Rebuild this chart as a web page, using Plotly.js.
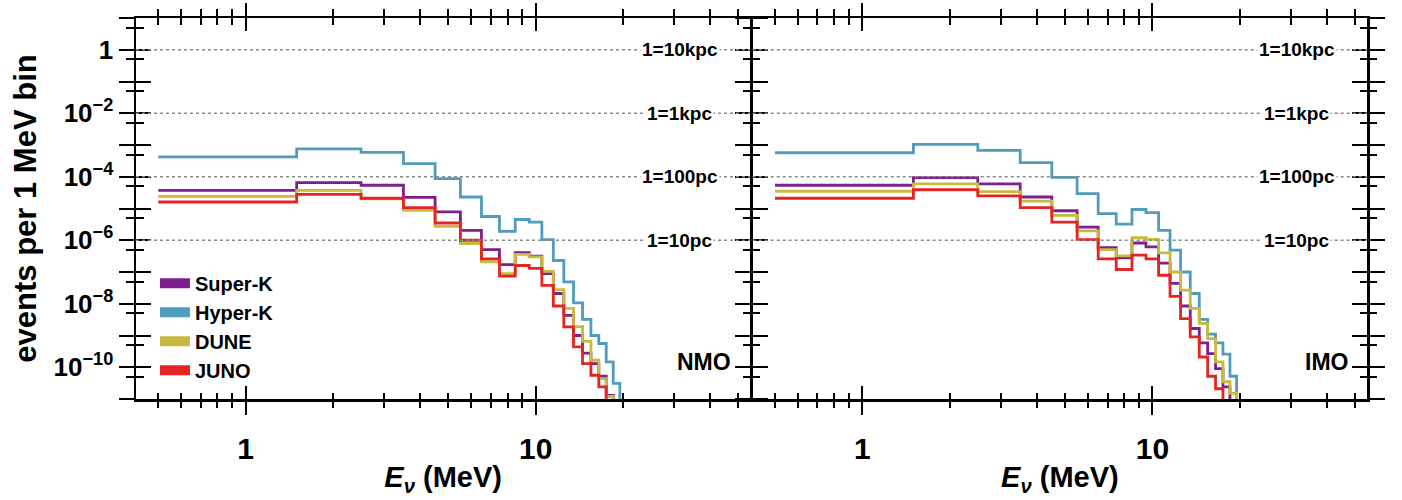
<!DOCTYPE html>
<html>
<head>
<meta charset="utf-8">
<script src="https://cdn.plot.ly/plotly-3.0.1.min.js"></script>
<style>html,body{margin:0;padding:0;background:#fff;}#chart{width:1402px;height:500px;}</style>
</head>
<body>
<div id="chart"></div>
<script>
// ---------------- DATA ----------------
// lower bin edges (MeV), 1 MeV wide bins
const binEdges = [0.5,1.5,2.5,3.5,4.5,5.5,6.5,7.5,8.5,9.5,10.5,11.5,12.5,13.5,14.5,15.5,16.5,17.5,18.5,19.5,20.5];
const detectors = ['Super-K','Hyper-K','DUNE','JUNO'];
const colors = ['#7d1f8e','#4f9dba','#c8b93f','#e32422'];
// events per 1 MeV bin, normal mass ordering (last value: next bin, below axis)
const superK_NMO = [3.7e-5,6.5e-5,5.4e-5,2.25e-5,7.8e-6,2.05e-6,5.1e-7,1.7e-7,4.1e-7,3.15e-7,8.9e-8,2.1e-8,4.3e-9,1.0e-9,2.8e-10,1.3e-10,5.2e-11,1.3e-11,1e-13];
const hyperK_NMO = [4.2e-4,7.6e-4,5.9e-4,2.6e-4,8.7e-5,2.3e-5,5.6e-6,1.9e-6,4.5e-6,3.7e-6,1.05e-6,2.3e-7,4.9e-8,1.07e-8,3.2e-9,1.0e-9,5.6e-10,1.48e-10,3.1e-11,1e-13];
const dune_NMO   = [2.4e-5,3.7e-5,2.0e-5,8.8e-6,2.75e-6,7.9e-7,2.1e-7,8.9e-8,3.6e-7,3.0e-7,1.05e-7,2.8e-8,7.1e-9,1.9e-9,6.6e-10,1.66e-10,4.4e-11,1.2e-11,1e-13];
const juno_NMO   = [1.6e-5,2.8e-5,2.1e-5,1.07e-5,3.5e-6,1.0e-6,2.6e-7,7.4e-8,1.6e-7,1.3e-7,3.8e-8,8.5e-9,1.87e-9,4.4e-10,1.3e-10,5.6e-11,2.4e-11,1e-13];
// inverted mass ordering
const superK_IMO = [5.4e-5,9.4e-5,6.0e-5,2.3e-5,8.5e-6,2.6e-6,5.9e-7,2.8e-7,8.2e-7,6.2e-7,1.9e-7,4.4e-8,8.5e-9,1.66e-9,5.9e-10,2.7e-10,9.1e-11,2.4e-11,1e-13];
const hyperK_IMO = [5.7e-4,1.05e-3,6.8e-4,2.8e-4,9.5e-5,2.95e-5,6.9e-6,3.2e-6,9.3e-6,7.4e-6,2.06e-6,4.9e-7,1.0e-7,2.1e-8,3.2e-9,1.1e-9,5.9e-10,2.6e-10,5.2e-11,1e-13];
const dune_IMO   = [3.5e-5,6.0e-5,3.4e-5,1.7e-5,6.1e-6,1.96e-6,5.1e-7,3.2e-7,1.2e-6,1.07e-6,4.0e-7,1.0e-7,2.7e-8,7.1e-9,2.4e-9,8.0e-10,1.48e-10,3.5e-11,1.5e-11,1e-13];
const juno_IMO   = [2.1e-5,3.9e-5,2.5e-5,1.07e-5,3.7e-6,1.05e-6,2.6e-7,1.2e-7,3.4e-7,2.6e-7,7.9e-8,1.7e-8,3.4e-9,9.1e-10,2.1e-10,5.2e-11,2.1e-11,1e-13];
// reference-distance lines
const refLevels = [1, 1e-2, 1e-4, 1e-6];
const refLabels = ['1=10kpc','1=1kpc','1=100pc','1=10pc'];
const panelLabels = ['NMO','IMO'];
// axis ticks
const xMajor = [1, 10];
const xMajorText = ['1', '10'];
const xMinor = [0.5,0.6,0.7,0.8,0.9,2,3,4,5,6,7,8,9,20,30,40,50];
const yExponents = [1,0,-1,-2,-3,-4,-5,-6,-7,-8,-9,-10,-11];
const yLabelExponents = [0,-2,-4,-6,-8,-10];
// ---------------- BUILD ----------------
const FONT = 'Liberation Sans, Arial, Helvetica, sans-serif';
const NB = '\u00a0';
const yMajor = yExponents.map(e => Math.pow(10, e));
const yMajorText = yExponents.map(e => yLabelExponents.includes(e) ? (e === 0 ? '1' : '10<sup>\u2212' + (-e) + '</sup>') : '');
const yMinor = yExponents.slice(1).map(e => 5 * Math.pow(10, e));

const panels = [
  {series: [superK_NMO, hyperK_NMO, dune_NMO, juno_NMO], xa: 'x', ya: 'y'},
  {series: [superK_IMO, hyperK_IMO, dune_IMO, juno_IMO], xa: 'x2', ya: 'y2'}
];
const traces = [];
panels.forEach(p => {
  p.series.forEach((vals, i) => {
    const xs = binEdges.slice(0, vals.length);
    traces.push({
      type: 'scatter', mode: 'lines', x: xs, y: vals,
      line: {color: colors[i], width: 2.8, shape: 'hv'},
      xaxis: p.xa, yaxis: p.ya, showlegend: false, hoverinfo: 'x+y'
    });
  });
});
detectors.forEach((d, i) => {
  traces.push({type: 'scatter', mode: 'lines', x: [null], y: [null], name: d,
    line: {color: colors[i], width: 14}, xaxis: 'x3', yaxis: 'y3', showlegend: true});
});
// empty trace so the right panel's inner-tick overlay axes are drawn
traces.push({type: 'scatter', mode: 'lines', x: [null], y: [null], xaxis: 'x4', yaxis: 'y4', showlegend: false});

const xr = [Math.log10(0.419), Math.log10(54.9)];
const yr = [-11, 1];
const dLeft = [0, 0.499], dRight = [0.501, 1];
function xAxis(domain, anchor, inside, labels) {
  return {
    type: 'log', domain: domain, anchor: anchor, range: xr,
    showline: !inside, linecolor: '#000', linewidth: 2.5, mirror: 'ticks',
    ticks: inside ? 'inside' : 'outside', ticklen: 13, tickwidth: 2, tickcolor: '#000',
    tickmode: 'array', tickvals: xMajor, ticktext: xMajorText, ticklabelstandoff: 8,
    showticklabels: labels, tickfont: {family: FONT, size: 30, color: '#000', weight: 'bold'},
    showgrid: false, zeroline: false,
    minor: {ticks: inside ? 'inside' : 'outside', ticklen: 6.5, tickwidth: 2, tickcolor: '#000', tickmode: 'array', tickvals: xMinor, showgrid: false}
  };
}
function yAxis(anchor, inside, labels) {
  return {
    type: 'log', domain: [0, 1], anchor: anchor, range: yr,
    showline: !inside, linecolor: '#000', linewidth: 2.5, mirror: 'ticks',
    ticks: inside ? 'inside' : 'outside', ticklen: 15, tickwidth: 2, tickcolor: '#000',
    tickmode: 'array', tickvals: yMajor, ticktext: yMajorText,
    showticklabels: labels, tickfont: {family: FONT, size: 26, color: '#000', weight: 'bold'},
    showgrid: false, zeroline: false,
    minor: {ticks: inside ? 'inside' : 'outside', ticklen: 7.5, tickwidth: 2, tickcolor: '#000', tickmode: 'array', tickvals: yMinor, showgrid: false}
  };
}
const xTitle = {text: '<i>E<sub>\u03bd</sub></i> (MeV)', font: {family: FONT, size: 29, color: '#000', weight: 'bold'}, standoff: 3};
const yTitleText = NB.repeat(11) + 'events per 1 MeV bin';

const layout = {
  width: 1402, height: 500,
  margin: {l: 136, r: 35, t: 18, b: 101},
  paper_bgcolor: '#fff', plot_bgcolor: 'rgba(0,0,0,0)',
  xaxis: Object.assign(xAxis(dLeft, 'y', false, true), {title: xTitle}),
  xaxis2: Object.assign(xAxis(dRight, 'y2', false, true), {title: xTitle}),
  yaxis: Object.assign(yAxis('x', false, true), {title: {text: yTitleText, font: {family: FONT, size: 31, color: '#000', weight: 'bold'}, standoff: 8}}),
  yaxis2: yAxis('x2', false, false),
  xaxis3: Object.assign(xAxis(dLeft, 'y3', true, false), {overlaying: 'x'}),
  yaxis3: Object.assign(yAxis('x3', true, false), {overlaying: 'y'}),
  xaxis4: Object.assign(xAxis(dRight, 'y4', true, false), {overlaying: 'x2'}),
  yaxis4: Object.assign(yAxis('x4', true, false), {overlaying: 'y2'}),
  showlegend: true,
  legend: {x: 0.0154, y: 0.355, xanchor: 'left', yanchor: 'top', xref: 'paper', yref: 'paper',
    bgcolor: 'rgba(0,0,0,0)', borderwidth: 0, itemwidth: 30, tracegroupgap: 0,
    font: {family: FONT, size: 20, color: '#000', weight: 'bold'}},
  shapes: [], annotations: []
};
[['x', 'y'], ['x2', 'y2']].forEach((ax, k) => {
  refLevels.forEach((v, j) => {
    const frac = (Math.log10(v) - yr[0]) / (yr[1] - yr[0]);
    layout.shapes.push({type: 'line', layer: 'above', xref: ax[0] + ' domain', x0: 0, x1: 1,
      yref: ax[1] + ' domain', y0: frac, y1: frac, line: {color: '#8a8a8a', width: 1.3, dash: 'dot'}});
    layout.annotations.push({xref: ax[0] + ' domain', x: 0.8855, xanchor: 'center', yref: ax[1] + ' domain', y: frac,
      yanchor: 'middle', text: refLabels[j], showarrow: false, bgcolor: '#fff', borderpad: 1,
      font: {family: FONT, size: 19, color: '#000', weight: 'bold'}});
  });
  layout.annotations.push({xref: ax[0] + ' domain', x: 0.972, xanchor: 'right', yref: ax[1] + ' domain', y: 0.098,
    yanchor: 'middle', text: panelLabels[k], showarrow: false,
    font: {family: FONT, size: 23, color: '#000', weight: 'bold'}});
});
Plotly.newPlot('chart', traces, layout, {displayModeBar: false, staticPlot: true});
</script>
</body>
</html>
